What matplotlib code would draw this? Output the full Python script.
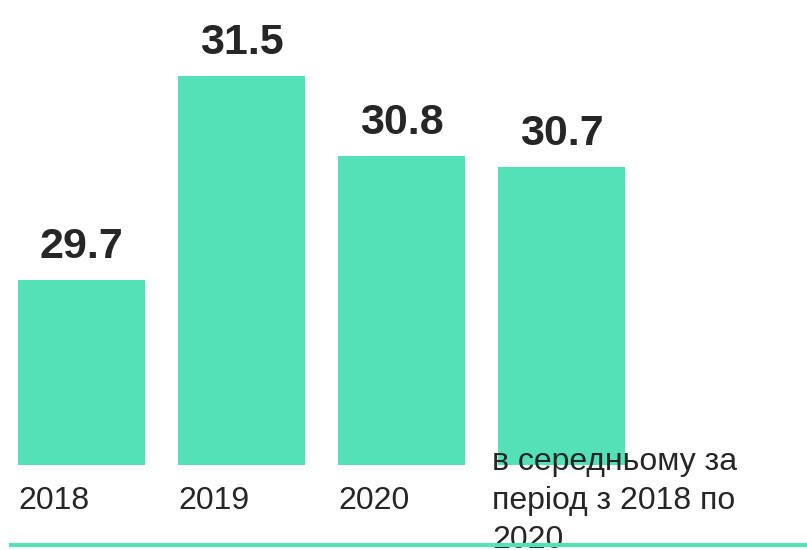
import matplotlib
matplotlib.use("Agg")
import matplotlib.pyplot as plt
from matplotlib.lines import Line2D

categories = ["2018", "2019", "2020", "в середньому за\nперіод з 2018 по\n2020"]
values = [29.7, 31.5, 30.8, 30.7]
value_labels = ["29.7", "31.5", "30.8", "30.7"]

bar_color = "#55e1b8"
text_color = "#262626"

plt.rcParams["font.family"] = ["Liberation Sans", "DejaVu Sans"]

fig = plt.figure(figsize=(8.07, 5.5), dpi=100)
ax = fig.add_axes([0, 85 / 550, 1, 465 / 550])

width = 127 / 160
x = list(range(len(values)))
ax.bar(x, values, width=width, color=bar_color)

ax.set_xlim(-81.5 / 160, (807 - 81.5) / 160)
ax.set_ylim(28.067, 28.067 + 465 / 113.2)

for xi, v, lab in zip(x, values, value_labels):
    ax.annotate(lab, xy=(xi, v), xytext=(0, 22), textcoords="offset pixels",
                ha="center", va="baseline", fontsize=31, fontweight="bold",
                color=text_color)

for xi, cat in zip(x, categories):
    # the wrapped label sits a little further left
    dx = -6 if "\n" in cat else 0
    ax.annotate(cat, xy=(xi - width / 2, 0), xycoords=("data", "axes fraction"),
                xytext=(dx, -36), textcoords="offset pixels",
                ha="left", va="center", fontsize=23, color=text_color,
                linespacing=1.4, annotation_clip=False)

ax.axis("off")

fig.add_artist(Line2D([11 / 807, 1], [5 / 550, 5 / 550], color=bar_color,
                      linewidth=3, transform=fig.transFigure))

fig.savefig("out.png", dpi=100)
